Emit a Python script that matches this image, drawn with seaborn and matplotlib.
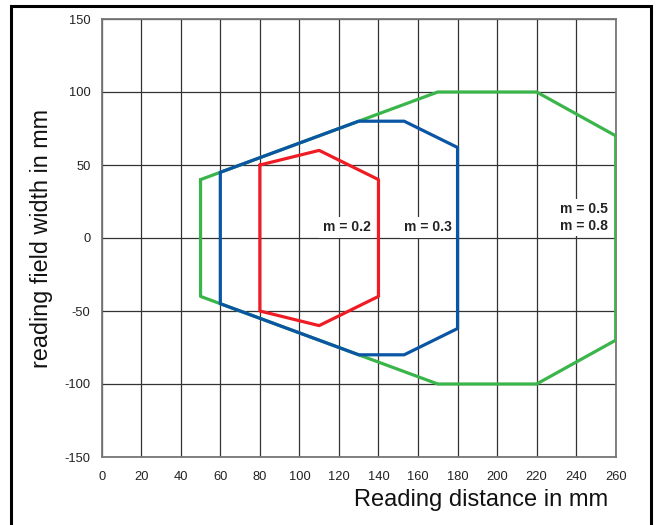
import matplotlib
matplotlib.use("Agg")
import matplotlib.pyplot as plt
from matplotlib.patches import Rectangle
import seaborn as sns
import pandas as pd

# Reading field polygons (distance mm, width mm)
red_x = [80, 110, 140, 140, 110, 80, 80]
red_y = [50, 60, 40, -40, -60, -50, 50]

blue_x = [60, 130, 153, 180, 180, 153, 130, 60, 60]
blue_y = [45, 80, 80, 62, -62, -80, -80, -45, 45]

green_x = [50, 170, 220, 260, 260, 220, 170, 50, 50]
green_y = [40, 100, 100, 70, -70, -100, -100, -40, 40]

x_ticks = list(range(0, 261, 20))
y_ticks = [-150, -100, -50, 0, 50, 100, 150]

labels = ["m = 0.2", "m = 0.3", "m = 0.5\nm = 0.8"]
label_x = [136, 177, 256]
label_y = [7.5, 7.5, 14]

sns.set_theme(style="white")
plt.rcParams["font.family"] = ["Liberation Sans", "DejaVu Sans"]
plt.rcParams["axes.unicode_minus"] = False

fig = plt.figure(figsize=(6.58, 5.25), dpi=100)
ax = fig.add_axes([101.7 / 658, 1 - 457 / 525, 514 / 658, 438 / 525])

ax.set_xlim(0, 260)
ax.set_ylim(-150, 150)
ax.set_xticks(x_ticks)
ax.set_yticks(y_ticks)
ax.grid(True, color="#333333", linewidth=0.9, zorder=0)
ax.set_axisbelow(True)

green_df = pd.DataFrame({"x": green_x, "y": green_y})
blue_df = pd.DataFrame({"x": blue_x, "y": blue_y})
red_df = pd.DataFrame({"x": red_x, "y": red_y})
sns.lineplot(data=green_df, x="x", y="y", sort=False, estimator=None,
             color="#3AB54A", linewidth=2.3, ax=ax, zorder=3)
sns.lineplot(data=blue_df, x="x", y="y", sort=False, estimator=None,
             color="#0A56A5", linewidth=2.3, ax=ax, zorder=4)
sns.lineplot(data=red_df, x="x", y="y", sort=False, estimator=None,
             color="#EE1D25", linewidth=2.3, ax=ax, zorder=5)

for t, lx, ly in zip(labels, label_x, label_y):
    ax.text(lx, ly, t, ha="right", va="center", fontsize=10, fontweight="bold",
            color="#222222", linespacing=1.2, zorder=2,
            bbox=dict(facecolor="white", edgecolor="none", pad=2.5))

for s in ax.spines.values():
    s.set_color("#777777")
    s.set_linewidth(1.3)

ax.tick_params(axis="both", length=0, labelsize=9.3, colors="#222222")
ax.tick_params(axis="x", pad=10)
ax.tick_params(axis="y", pad=8)

ax.set_xlabel("")
ax.set_ylabel("reading field width in mm", fontsize=16.8, color="#111111", labelpad=8)
ax.text(0.985, -0.072, "Reading distance in mm", transform=ax.transAxes,
        ha="right", va="top", fontsize=17, color="#111111")

fig.patches.append(Rectangle((11 / 658, -0.05), (651 - 11) / 658, 1.05 - 6 / 525,
                             transform=fig.transFigure, fill=False,
                             edgecolor="black", linewidth=2.2))

fig.savefig("out.png", dpi=100)
